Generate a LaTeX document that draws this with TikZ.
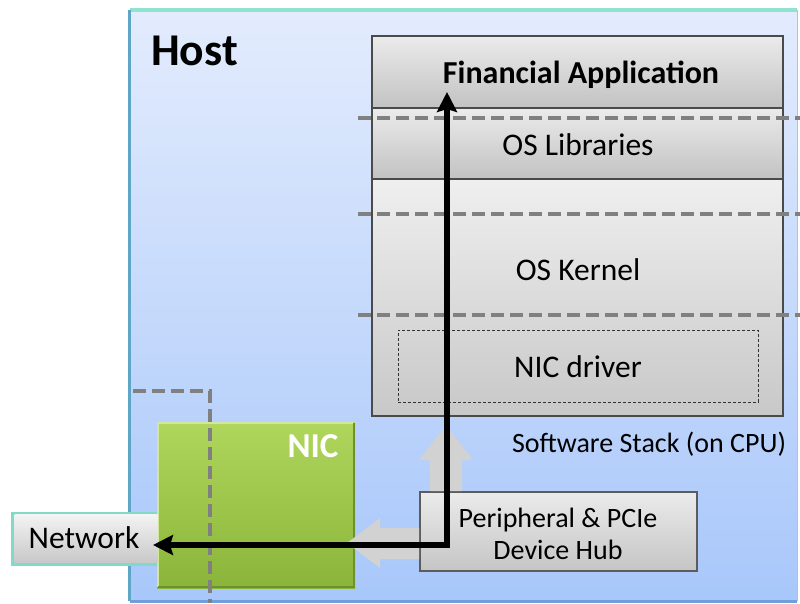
\documentclass[tikz,border=0pt]{standalone}
\usepackage{fontspec}
\setmainfont{Carlito}
\usetikzlibrary{arrows.meta,calc}
\definecolor{hosttop}{HTML}{E3ECFD}
\definecolor{hostbot}{HTML}{A8C7FA}
\definecolor{tealline}{HTML}{8FE3CF}
\definecolor{leftline}{HTML}{5FA6C6}
\definecolor{botline}{HTML}{6E9FD8}
\definecolor{laytop}{HTML}{EBEBEB}
\definecolor{laybot}{HTML}{C2C2C2}
\definecolor{layedge}{HTML}{4A4A4A}
\definecolor{dashgray}{HTML}{808080}
\definecolor{nictop}{HTML}{B0D65C}
\definecolor{nicbot}{HTML}{8AB53A}
\definecolor{blockgray}{HTML}{D2D2D2}
\begin{document}
\begin{tikzpicture}[x=1pt,y=-1pt,
  layer/.style={draw=layedge, line width=1.2pt, top color=laytop, bottom color=laybot, minimum width=411pt, inner sep=0pt},
  lbl/.style={anchor=base, inner sep=0pt, font=\fontsize{31.5}{36}\selectfont},
  lblsmall/.style={anchor=base, inner sep=0pt, font=\fontsize{28}{32}\selectfont},
  graydash/.style={draw=dashgray, line width=4pt, dash pattern=on 13pt off 6pt},
  blockarrow/.style={fill=blockgray, draw=none},
  blk/.style={draw=black, line width=5.5pt, {Stealth[length=20pt,width=20pt,inset=3pt]}-{Stealth[length=20pt,width=20pt,inset=3pt]}}
]
\useasboundingbox (0,0) rectangle (800,603);
% Host box
\node[draw=none, top color=hosttop, bottom color=hostbot, minimum width=667pt, minimum height=591pt, inner sep=0pt] (host) at (463.5,305.5) {};
\draw[botline, line width=3pt] (host.south west) -- (host.south east);
\draw[tealline, line width=4pt] (host.north west) -- (host.north east);
\draw[leftline, line width=3pt] (host.north west) -- (host.south west);
\draw[botline!60, line width=1pt] (host.north east) -- (host.south east);
\node[anchor=base west, inner sep=0pt, font=\fontsize{45.5}{50}\selectfont\bfseries] (hostlbl) at (151,65) {Host};
% software stack layers
\node[layer, minimum height=72pt] (fin) at (577.5,72) {};
\node[layer, minimum height=71pt] (lib) at (577.5,143.5) {};
\node[draw=layedge, line width=1.2pt, top color=laytop!80!white, bottom color=laybot!90!white, minimum width=411pt, minimum height=237pt, inner sep=0pt] (kern) at (577.5,297.5) {};
\draw[layedge, line width=1.6pt] (fin.north west) rectangle (kern.south east);
\node[draw=black!80, line width=0.9pt, dash pattern=on 3pt off 2pt, minimum width=360pt, minimum height=72pt, inner sep=0pt] (drv) at (578,366) {};
% labels
\node[lbl, font=\fontsize{32}{36}\selectfont\bfseries] (finlbl) at (581,83) {Financial Application};
\node[lbl] (liblbl) at (578,155) {OS Libraries};
\node[lbl] (kernlbl) at (578,280) {OS Kernel};
\node[lbl] (drvlbl) at (578,377) {NIC driver};
\node[lblsmall] (stacklbl) at (649,452) {Software Stack (on CPU)};
% dashed separators
\draw[graydash] (358,118) -- (800,118);
\draw[graydash] (358,214) -- (800,214);
\draw[graydash] (358,315) -- (800,315);
% NIC
\node[draw=none, top color=nictop, bottom color=nicbot, minimum width=198pt, minimum height=166pt, inner sep=0pt] (nic) at (256,505) {};
\draw[nictop!60!white, line width=2pt] ($(nic.south west)+(1,-1)$) -- ($(nic.north west)+(1,1)$) -- ($(nic.north east)+(-1,1)$);
\draw[nicbot!80!black, line width=2pt] ($(nic.north east)+(-1,1)$) -- ($(nic.south east)+(-1,-1)$) -- ($(nic.south west)+(1,-1)$);
\node[anchor=base, inner sep=0pt, text=white, font=\fontsize{35}{40}\selectfont\bfseries] (niclbl) at (313,457) {NIC};
% dashed boundary
\draw[graydash] (133,391) -- (210,391) -- (210,603);
% Network
\fill[tealline!90!teal] (11,512) rectangle (157,566);
\node[draw=none, top color=laytop!60!white, bottom color=laybot!90!white, minimum width=143pt, minimum height=48pt, inner sep=0pt] (net) at (86,538.5) {};
\node[lbl] (netlbl) at (84,548) {Network};
% hub
\node[draw=layedge!90, line width=1.2pt, top color=laytop, bottom color=laybot!95!white, minimum width=277pt, minimum height=79pt, inner sep=0pt] (hub) at (558.5,531.5) {};
% block arrows
\fill[blockarrow] (430,491) -- (430,460) -- (419,460) -- (446,425) -- (473,460) -- (462,460) -- (462,491) -- cycle;
\fill[blockarrow] (419,528) -- (380,528) -- (380,518) -- (347,543) -- (380,568) -- (380,559) -- (419,559) -- cycle;
\node[lblsmall] (hublbl1) at (558,527) {Peripheral \& PCIe};
\node[lblsmall] (hublbl2) at (558,559) {Device Hub};
% black data path
\coordinate (apptip) at (447,92);
\coordinate (netin) at (153,545);
\draw[blk] (apptip) |- (netin);
\end{tikzpicture}
\end{document}
